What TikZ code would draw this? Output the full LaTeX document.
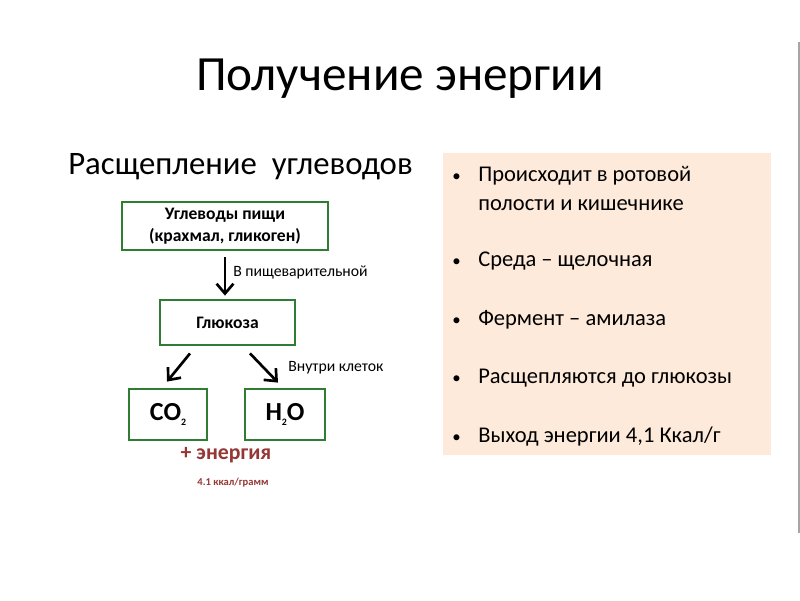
\documentclass[tikz,border=0pt]{standalone}
\usepackage{fontspec}
\setmainfont{Carlito}
\usetikzlibrary{arrows.meta,calc}
\definecolor{boxgreen}{HTML}{2F7D32}
\definecolor{energyred}{HTML}{953735}
\definecolor{panelpeach}{HTML}{FDEADA}
\definecolor{edgegray}{HTML}{A6A6A6}
\newcommand{\lowtwo}{\raisebox{-4pt}{\fontsize{7}{7}\selectfont 2}}

\begin{document}
\begin{tikzpicture}[
  x=0.025cm,
  y=-0.025cm,
  every node/.style={inner sep=0pt, text=black},
  stagebox/.style={draw=boxgreen, line width=2pt, align=center,
    font=\fontsize{12.5}{15.5}\selectfont\bfseries},
  molbox/.style={stagebox, font=\fontsize{18.5}{20}\selectfont\bfseries},
  flow/.style={line width=1.9pt, -{Straight Barb[length=7pt, width=12pt]}},
  note/.style={anchor=west, font=\fontsize{11.2}{13}\selectfont},
  bulletline/.style={anchor=base west, font=\fontsize{16}{19}\selectfont},
  bulletdot/.style={anchor=base west, font=\fontsize{12}{14}\selectfont}
]
  \useasboundingbox[fill=white] (0,0) rectangle (800,600);

  % ---- headings ---------------------------------------------------------
  \node[anchor=base, font=\fontsize{35}{40}\selectfont] (title) at (400,90)
    {Получение энергии};
  \node[anchor=base west, font=\fontsize{23.3}{28}\selectfont] (subtitle)
    at (68,174) {Расщепление\ \ углеводов};

  % ---- the chain of boxes -----------------------------------------------
  \node[stagebox, minimum width=5.15cm, minimum height=1.2cm] (food)
    at (225,226) {Углеводы пищи\\(крахмал, гликоген)};
  \node[stagebox, minimum width=3.375cm, minimum height=1.125cm] (glucose)
    at (227.5,322.5) {Глюкоза};
  \node[molbox, minimum width=1.95cm, minimum height=1.275cm] (co2)
    at (168,414.5) {CO\lowtwo};
  \node[molbox, minimum width=2cm, minimum height=1.275cm] (water)
    at (285,414.5) {H\lowtwo O};

  % ---- arrows and their notes -------------------------------------------
  \draw[flow] ($(food.south)+(0,6)$) -- ($(glucose.north)+(-2.5,-3)$);
  \node[note] (gut) at (233,272) {В пищеварительной};

  \draw[flow] ($(glucose.south)+(-37.5,7)$) -- ($(co2.north)+(-1,-6)$);
  \draw[flow] ($(glucose.south)+(22.5,7)$) -- ($(water.north)+(-7,-5)$);
  \node[note] (cells) at (288,368) {Внутри клеток};

  % ---- yield ------------------------------------------------------------
  \node[text=energyred, font=\fontsize{15.5}{18}\selectfont\bfseries]
    (energy) at (226,455) {+ энергия};
  \node[text=energyred, font=\fontsize{7.5}{9}\selectfont\bfseries]
    (kcal) at (233,483) {4.1 ккал/грамм};

  % ---- facts panel ------------------------------------------------------
  \fill[panelpeach] (443,153) rectangle (771,455);
  \foreach \y/\txt in {181.5/{Происходит в ротовой},
                       266.5/{Среда -- щелочная},
                       325/{Фермент -- амилаза},
                       383.5/{Расщепляются до глюкозы},
                       442/{Выход энергии 4,1 Ккал/г}}
    {
      \node[bulletdot] at (452,\y) {•};
      \node[bulletline] at (478,\y) {\txt};
    }
  \node[bulletline] (mouth) at (478,210.5) {полости и кишечнике};

  % ---- slide edge -------------------------------------------------------
  \draw[edgegray, line width=1pt] (799,42) -- (799,533);
\end{tikzpicture}
\end{document}
